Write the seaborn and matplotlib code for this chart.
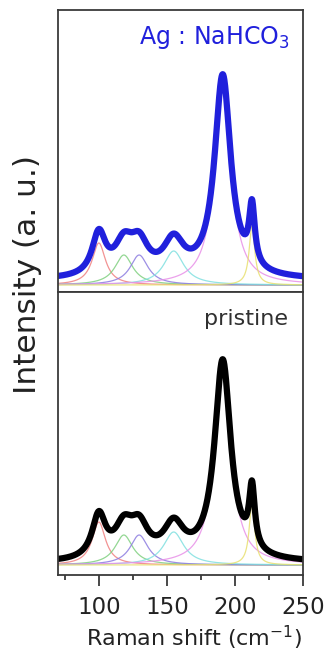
import numpy as np
import pandas as pd
import matplotlib
matplotlib.use("Agg")
import matplotlib.pyplot as plt
import seaborn as sns

# ---- data (Lorentzian fit components) ----
peak_centers = [100.0, 118.4, 129.6, 155.0, 191.0, 212.5]
peak_widths = [6.0, 8.0, 8.0, 9.0, 7.2, 2.5]            # HWHM, cm^-1
ag_heights = [42.0, 30.0, 30.0, 34.0, 202.0, 59.0]
pristine_heights = [43.0, 30.0, 30.0, 33.0, 200.0, 61.0]
ag_background = 5.0
pristine_background = 2.0
component_colors = ["#f08080", "#80d080", "#8c7ce0", "#80e0e0", "#e890e8", "#e8e070"]
x_ticks = [100, 150, 200, 250]
x_minor = [75, 125, 175, 225]

shift = np.linspace(70, 250, 901)


def lorentz(x, c, h, w):
    return h / (1.0 + ((x - c) / w) ** 2)


def build(heights, bg):
    rows = []
    total = np.full_like(shift, bg)
    for i, (c, h, w) in enumerate(zip(peak_centers, heights, peak_widths)):
        y = lorentz(shift, c, h, w)
        total += y
        rows.append(pd.DataFrame({"shift": shift, "I": y, "comp": f"p{i}"}))
    comps = pd.concat(rows, ignore_index=True)
    tot = pd.DataFrame({"shift": shift, "I": total})
    return comps, tot


sns.set_style("white")
plt.rcParams["font.family"] = ["DejaVu Sans"]
plt.rcParams["mathtext.fontset"] = "dejavusans"

fig = plt.figure(figsize=(3.29, 6.58), dpi=100)
left, width = 58 / 329, (303 - 58) / 329
ax_top = fig.add_axes([left, 1 - 292 / 658, width, 282 / 658])
ax_bot = fig.add_axes([left, 1 - 575 / 658, width, 283 / 658], sharex=ax_top)

panels = [
    (ax_top, ag_heights, ag_background, "#2020dc", (-7, 275)),
    (ax_bot, pristine_heights, pristine_background, "black", (-10, 273)),
]
for ax, heights, bg, col, ylim in panels:
    comps, tot = build(heights, bg)
    sns.lineplot(data=comps, x="shift", y="I", hue="comp",
                 palette=component_colors, lw=0.9, alpha=0.85,
                 legend=False, ax=ax)
    sns.lineplot(data=tot, x="shift", y="I", color=col, lw=4.5, ax=ax)
    ax.set_ylim(*ylim)
    ax.set_yticks([])
    ax.set_xlabel("")
    ax.set_ylabel("")
    for s in ax.spines.values():
        s.set_color("#3a3a3a")
        s.set_linewidth(1.3)

ax_top.set_xlim(70, 250)
ax_top.tick_params(axis="x", which="both", bottom=False, labelbottom=False)
ax_bot.set_xticks(x_ticks)
ax_bot.set_xticks(x_minor, minor=True)
ax_bot.tick_params(axis="x", which="major", direction="out", length=8, width=1.3,
                   color="#3a3a3a", labelsize=16.5, pad=7, bottom=True,
                   labelcolor="#222222")
ax_bot.tick_params(axis="x", which="minor", direction="out", length=3.8, width=1.3,
                   color="#3a3a3a", bottom=True)
ax_bot.set_xlabel("Raman shift (cm$^{-1}$)", fontsize=16, color="#222222")
ax_bot.xaxis.set_label_coords((194 - 58) / 245, -(624 - 575) / 283)

fig.text(290 / 329, 1 - 44 / 658, "Ag : NaHCO$_3$", ha="right", va="baseline",
         color="#2020dc", fontsize=17)
fig.text(288 / 329, 1 - 325 / 658, "pristine", ha="right", va="baseline",
         color="#303030", fontsize=16)

fig.text(28 / 329, 1 - 275 / 658, "Intensity (a. u.)", rotation=90,
         ha="center", va="center", fontsize=22.5, color="#222222")

fig.savefig("out.png", dpi=100)
